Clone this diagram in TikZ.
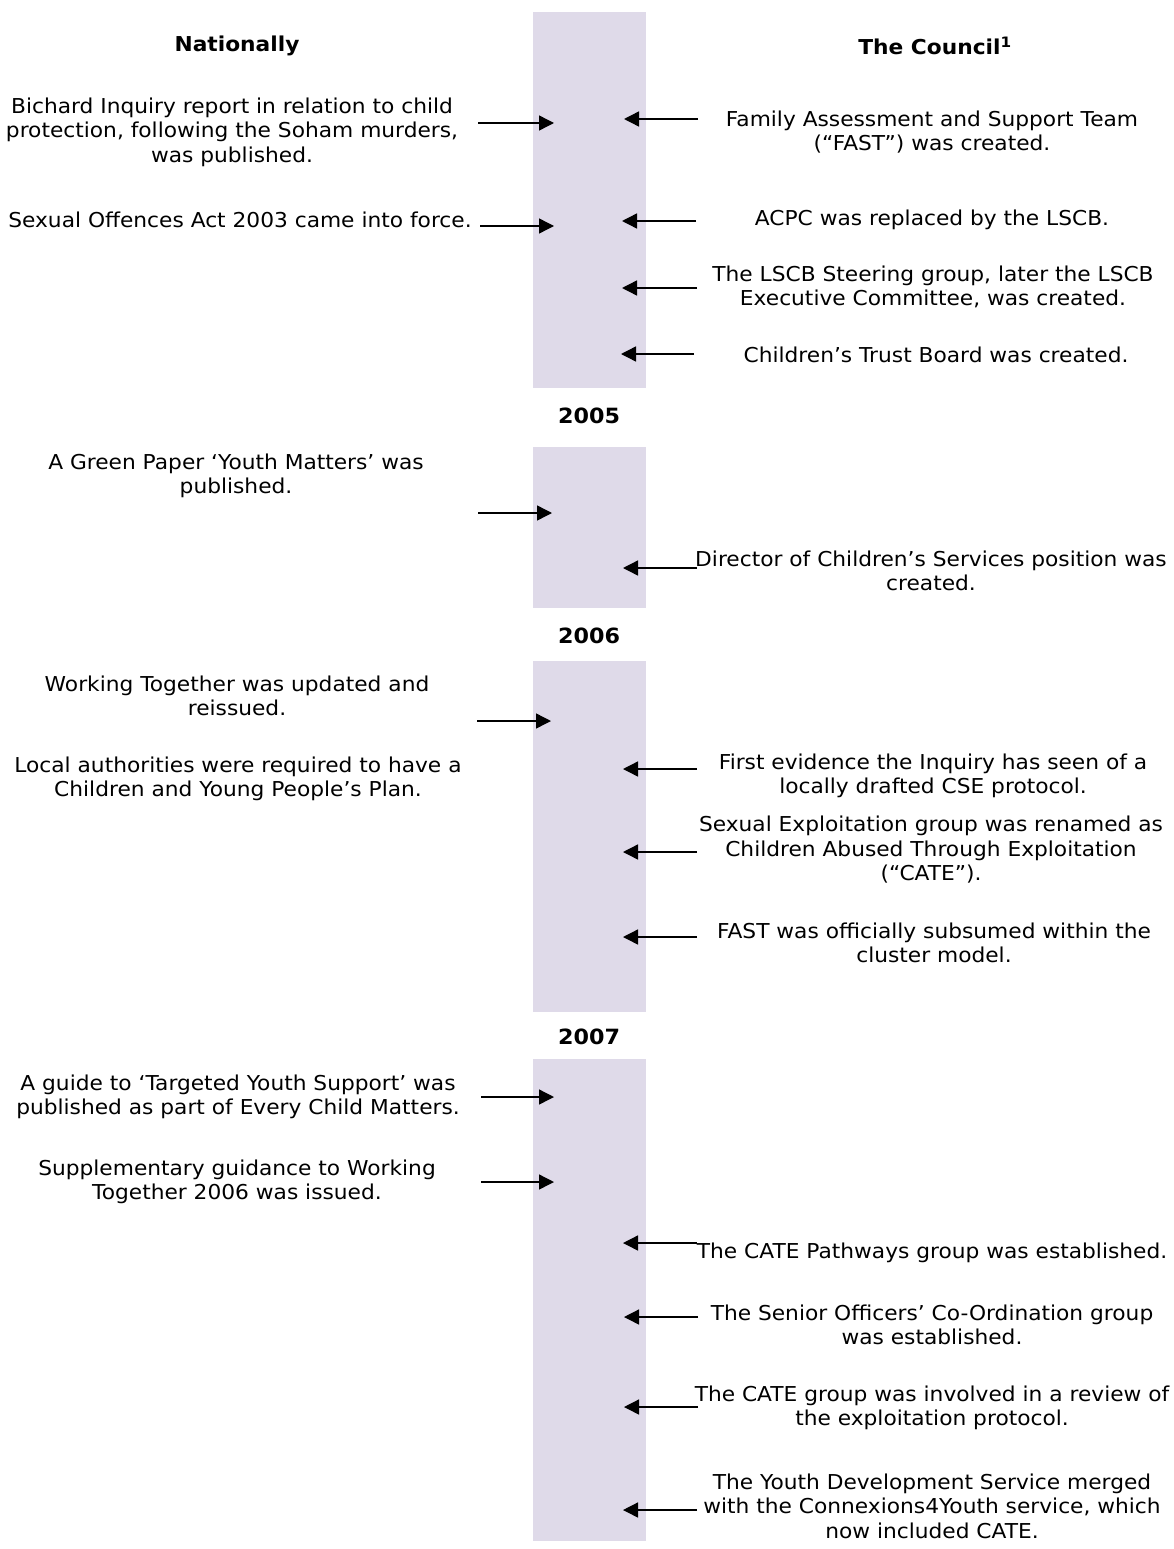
\documentclass[tikz,border=0pt]{standalone}
\usepackage{fontspec}
\setmainfont{DejaVu Sans}[FakeStretch=1.06]
\usetikzlibrary{arrows.meta}
\definecolor{barfill}{RGB}{223,218,233}
\tikzset{
  txt/.style={align=center, inner sep=0pt, font=\fontsize{20.5}{24.5}\selectfont},
  head/.style={inner sep=0pt, font=\fontsize{20.5}{24.5}\selectfont\bfseries},
  yr/.style={inner sep=0pt, font=\fontsize{21}{24}\selectfont\bfseries},
  arr/.style={line width=1.4pt, -{Triangle[length=15pt,width=15pt]}},
  seg/.style={fill=barfill, draw=none}
}
\begin{document}
\begin{tikzpicture}[x=1pt,y=-1pt]
\useasboundingbox (0,0) rectangle (1174,1549);
% timeline bar, split by year labels
\fill[seg] (533,12) rectangle (646,388);
\fill[seg] (533,447) rectangle (646,608);
\fill[seg] (533,661) rectangle (646,1012);
\fill[seg] (533,1059) rectangle (646,1541);
\node[yr] (y2005) at (589,416) {2005};
\node[yr] (y2006) at (589,636) {2006};
\node[yr] (y2007) at (589,1037) {2007};

% column headings
\node[head] (hnat) at (237,46) {Nationally};
\node[head] (hcou) at (935,46) {The Council\textsuperscript{1}};

% national events
\node[txt] (n1) at (232,132) {Bichard Inquiry report in relation to child\\protection, following the Soham murders,\\was published.};
\node[txt] (n2) at (240,220) {Sexual Offences Act 2003 came into force.};
\node[txt] (n3) at (236,476) {A Green Paper ‘Youth Matters’ was\\published.};
\node[txt] (n4) at (237,696) {Working Together was updated and\\reissued.};
\node[txt] (n5) at (238,779) {Local authorities were required to have a\\Children and Young People’s Plan.};
\node[txt] (n6) at (238,1097) {A guide to ‘Targeted Youth Support’ was\\published as part of Every Child Matters.};
\node[txt] (n7) at (237,1182) {Supplementary guidance to Working\\Together 2006 was issued.};

% council events
\node[txt] (c1) at (932,132) {Family Assessment and Support Team\\(“FAST”) was created.};
\node[txt] (c2) at (932,220) {ACPC was replaced by the LSCB.};
\node[txt] (c3) at (933,287) {The LSCB Steering group, later the LSCB\\Executive Committee, was created.};
\node[txt] (c4) at (936,355) {Children’s Trust Board was created.};
\node[txt] (c5) at (931,571) {Director of Children’s Services position was\\created.};
\node[txt] (c6) at (933,776) {First evidence the Inquiry has seen of a\\locally drafted CSE protocol.};
\node[txt] (c7) at (931,850) {Sexual Exploitation group was renamed as\\Children Abused Through Exploitation\\(“CATE”).};
\node[txt] (c8) at (934,943) {FAST was officially subsumed within the\\cluster model.};
\node[txt] (c9) at (932,1253) {The CATE Pathways group was established.};
\node[txt] (c10) at (932,1325) {The Senior Officers’ Co-Ordination group\\was established.};
\node[txt] (c11) at (932,1408) {The CATE group was involved in a review of\\the exploitation protocol.};
\node[txt] (c12) at (932,1506) {The Youth Development Service merged\\with the Connexions4Youth service, which\\now included CATE.};

% arrow end points: national side
\coordinate (na1) at (478,123);  \coordinate (nb1) at (554,123);
\coordinate (na2) at (480,226);  \coordinate (nb2) at (554,226);
\coordinate (na3) at (478,513);  \coordinate (nb3) at (552,513);
\coordinate (na4) at (477,721);  \coordinate (nb4) at (551,721);
\coordinate (na6) at (481,1097); \coordinate (nb6) at (554,1097);
\coordinate (na7) at (481,1182); \coordinate (nb7) at (554,1182);
% arrow end points: council side
\coordinate (ca1) at (698,119);   \coordinate (cb1) at (624,119);
\coordinate (ca2) at (696,221);   \coordinate (cb2) at (622,221);
\coordinate (ca3) at (697,288);   \coordinate (cb3) at (622,288);
\coordinate (ca4) at (694,354);   \coordinate (cb4) at (621,354);
\coordinate (ca5) at (697,568);   \coordinate (cb5) at (623,568);
\coordinate (ca6) at (697,769);   \coordinate (cb6) at (623,769);
\coordinate (ca7) at (697,852);   \coordinate (cb7) at (623,852);
\coordinate (ca8) at (697,937);   \coordinate (cb8) at (623,937);
\coordinate (ca9) at (697,1243);  \coordinate (cb9) at (623,1243);
\coordinate (ca10) at (698,1317); \coordinate (cb10) at (624,1317);
\coordinate (ca11) at (698,1407); \coordinate (cb11) at (624,1407);
\coordinate (ca12) at (697,1510); \coordinate (cb12) at (623,1510);

\foreach \i in {1,2,3,4,6,7} \draw[arr] (na\i) -- (nb\i);
\foreach \i in {1,...,12} \draw[arr] (ca\i) -- (cb\i);
\end{tikzpicture}
\end{document}
